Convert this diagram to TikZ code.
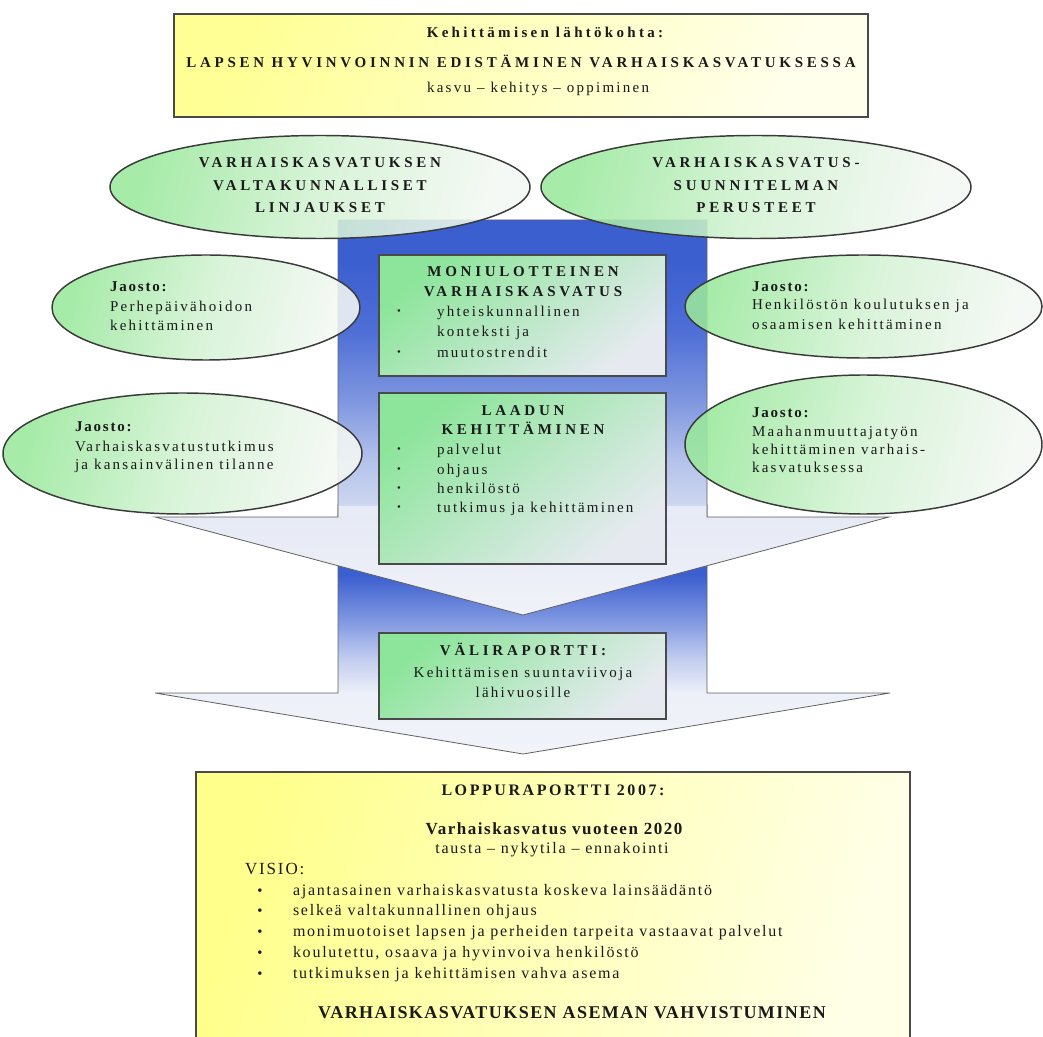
\documentclass[tikz,border=0pt]{standalone}
\usepackage{fontspec}
\setmainfont{Liberation Serif}
\newfontfamily\fCapB[LetterSpace=25]{Liberation Serif}
\newfontfamily\fHdl[LetterSpace=22]{Liberation Serif}
\newfontfamily\fTxt[LetterSpace=15]{Liberation Serif}
\newfontfamily\fJao[LetterSpace=12]{Liberation Serif}
\newfontfamily\fBotR[LetterSpace=11]{Liberation Serif}
\newfontfamily\fBotB[LetterSpace=16]{Liberation Serif}
\newfontfamily\fBotV[LetterSpace=9]{Liberation Serif}
\newfontfamily\fBotF[LetterSpace=8]{Liberation Serif}
\usetikzlibrary{shapes.geometric}

\definecolor{txtc}{HTML}{1A1A1A}
\definecolor{boxLine}{HTML}{4A4A4A}
\definecolor{arrLine}{HTML}{606060}
\definecolor{ellLine}{HTML}{3A3A3A}
\definecolor{ab1}{HTML}{3C5FD0}
\definecolor{ab2}{HTML}{4E6ED6}
\definecolor{ab3}{HTML}{7E96DF}
\definecolor{ab4}{HTML}{B4C2EB}
\definecolor{aw3}{HTML}{CDD6F0}
\definecolor{aw2b}{HTML}{E8ECF6}
\definecolor{aw2}{HTML}{E6EAF5}
\definecolor{aw1}{HTML}{F0F2F8}
\definecolor{bw1}{HTML}{F1F3F9}
\definecolor{bw2}{HTML}{EDF0F8}
\definecolor{bw3}{HTML}{C3CEEF}
\definecolor{bw4}{HTML}{7F97E0}
\definecolor{eg1}{HTML}{9AE89C}
\definecolor{eg2}{HTML}{F4F8F4}
\definecolor{eg3}{HTML}{D3F2D3}
\definecolor{bg1}{HTML}{8CE59A}
\definecolor{bg2}{HTML}{E6EAF0}
\definecolor{yl1}{HTML}{FFFF96}
\definecolor{yl2}{HTML}{FFFFEC}
\definecolor{yb1}{HTML}{FFFF8C}
\definecolor{yb2}{HTML}{FFFFE8}

\pgfdeclareverticalshading{arrOneSh}{100bp}{color(0bp)=(aw1); color(25bp)=(aw1); color(37.4bp)=(aw2); color(38.86bp)=(aw2b); color(38.99bp)=(aw3); color(44.6bp)=(ab4); color(52.2bp)=(ab3); color(61.1bp)=(ab2); color(69.9bp)=(ab1); color(100bp)=(ab1)}
\pgfdeclareverticalshading{arrTwoSh}{100bp}{color(0bp)=(bw1); color(25bp)=(bw1); color(37.2bp)=(bw2); color(43.9bp)=(bw3); color(51.9bp)=(bw4); color(60.9bp)=(ab1); color(100bp)=(ab1)}

\tikzset{
  lbl/.style={inner sep=0pt, outer sep=0pt, text=txtc},
  capB/.style={lbl, font=\fCapB\bfseries\fontsize{11.25}{13}\selectfont},
  hdlB/.style={lbl, font=\fHdl\bfseries\fontsize{11.25}{13}\selectfont},
  txtR/.style={lbl, font=\fTxt\fontsize{11.25}{13}\selectfont},
  jaoB/.style={lbl, font=\fJao\bfseries\fontsize{11.25}{13}\selectfont},
  dotS/.style={lbl, font=\fontsize{8}{8}\selectfont},
  botTitle/.style={lbl, font=\fBotB\bfseries\fontsize{12}{14}\selectfont},
  botSub/.style={lbl, font=\fBotV\bfseries\fontsize{12.75}{15}\selectfont},
  botR/.style={lbl, font=\fBotR\fontsize{12}{14}\selectfont},
  botV/.style={lbl, font=\fBotR\fontsize{12.75}{15}\selectfont},
  botF/.style={lbl, font=\fBotF\bfseries\fontsize{13.5}{16}\selectfont},
  botDot/.style={lbl, font=\fontsize{11}{12}\selectfont},
  shape box/.style={rectangle, inner sep=0pt, outer sep=0pt},
  topbox/.style={shape box, draw=boxLine, line width=1.5pt, left color=yl1, right color=yl2, shading angle=65},
  botbox/.style={shape box, draw=boxLine, line width=1.3pt, left color=yb1, right color=yb2, shading angle=75},
  greenbox/.style={shape box, draw=boxLine, line width=1.3pt, left color=bg1, right color=bg2, shading angle=40},
  ell/.style={ellipse, inner sep=0pt, outer sep=0pt, draw=ellLine, line width=1.1pt, fill opacity=0.88, left color=eg1, right color=eg2, middle color=eg3, shading angle=75},
  arrowbody/.style={draw=arrLine, line width=0.6pt},
}

\begin{document}
\begin{tikzpicture}[x=0.75pt, y=-0.75pt]
\useasboundingbox (0,0) rectangle (1043,1037);
\clip (0,0) rectangle (1043,1037);

% big arrows
\shadedraw[arrowbody, shading=arrTwoSh] (338,505) -- (707,505) -- (707,693) -- (890,693) -- (523,754) -- (155,693) -- (338,693) -- cycle;
\shadedraw[arrowbody, shading=arrOneSh] (338,220) -- (707,220) -- (707,517) -- (889,517) -- (523,615) -- (155,517) -- (338,517) -- cycle;
\draw[white!75!ab1, line width=0.9pt] (339,505) -- (706,505);

% boxes in the shaft
\node[greenbox, minimum width=215.25pt, minimum height=90.75pt] (moni) at (522.5,315.5) {};
\node[greenbox, minimum width=215.25pt, minimum height=128.25pt] (laatu) at (522.5,478.5) {};

% ellipses
\node[ell, minimum width=315pt, minimum height=77.25pt] (elTL) at (320,187) {};
\node[ell, minimum width=322.5pt, minimum height=77.25pt] (elTR) at (756,187) {};
\node[ell, minimum width=231pt, minimum height=78.75pt] (elL1) at (206,307.5) {};
\node[ell, minimum width=269.25pt, minimum height=90.75pt] (elL2) at (182.5,453.5) {};
\node[ell, minimum width=267.75pt, minimum height=77.25pt] (elR1) at (863.5,306.5) {};
\node[ell, minimum width=267.75pt, minimum height=104.25pt] (elR2) at (863.5,444.5) {};

% other boxes
\node[greenbox, minimum width=215.25pt, minimum height=64.5pt] (vali) at (522.5,676) {};
\node[botbox, minimum width=535.5pt, minimum height=216pt] (loppu) at (553,916) {};
\node[topbox, minimum width=520.5pt, minimum height=77.25pt] (top) at (521,65.5) {};

% top box text
\node[hdlB, anchor=base] (topA) at (545,38) {Kehittämisen lähtökohta:};
\node[capB, anchor=base] (topB) at (521,68) {LAPSEN HYVINVOINNIN EDISTÄMINEN VARHAISKASVATUKSESSA};
\node[txtR, anchor=base] (topC) at (538,93) {kasvu – kehitys – oppiminen};

% top ellipses text
\foreach \t [count=\i] in {VARHAISKASVATUKSEN,VALTAKUNNALLISET,LINJAUKSET}
  \node[capB, anchor=base] (tlt\i) at (320,{168+22.5*(\i-1)}) {\t};
\foreach \t [count=\i] in {VARHAISKASVATUS-,SUUNNITELMAN,PERUSTEET}
  \node[capB, anchor=base] (trt\i) at (756,{168+22.5*(\i-1)}) {\t};

% left ellipses text
\node[jaoB, anchor=base west] (l1a) at (110,292) {Jaosto:};
\node[txtR, anchor=base west] (l1b) at (110,312) {Perhepäivähoidon};
\node[txtR, anchor=base west] (l1c) at (110,331) {kehittäminen};
\node[jaoB, anchor=base west] (l2a) at (75,432) {Jaosto:};
\node[txtR, anchor=base west] (l2b) at (75,452) {Varhaiskasvatustutkimus};
\node[txtR, anchor=base west] (l2c) at (75,470) {ja kansainvälinen tilanne};

% right ellipses text
\node[jaoB, anchor=base west] (r1a) at (752,292) {Jaosto:};
\node[txtR, anchor=base west] (r1b) at (752,310) {Henkilöstön koulutuksen ja};
\node[txtR, anchor=base west] (r1c) at (752,330) {osaamisen kehittäminen};
\node[jaoB, anchor=base west] (r2a) at (752,418) {Jaosto:};
\node[txtR, anchor=base west] (r2b) at (752,437) {Maahanmuuttajatyön};
\node[txtR, anchor=base west] (r2c) at (752,455) {kehittäminen varhais-};
\node[txtR, anchor=base west] (r2d) at (752,473) {kasvatuksessa};

% MONIULOTTEINEN box text
\node[capB, anchor=base] (m1) at (523,277) {MONIULOTTEINEN};
\node[capB, anchor=base] (m2) at (523,297) {VARHAISKASVATUS};
\node[dotS, anchor=base] (md1) at (399,315) {•};
\node[txtR, anchor=base west] (mt1) at (437,317) {yhteiskunnallinen};
\node[txtR, anchor=base west] (mt2) at (437,337) {konteksti ja};
\node[dotS, anchor=base] (md2) at (399,356) {•};
\node[txtR, anchor=base west] (mt3) at (437,358) {muutostrendit};

% LAADUN box text
\node[capB, anchor=base] (q1) at (523,416) {LAADUN};
\node[capB, anchor=base] (q2) at (523,435) {KEHITTÄMINEN};
\foreach \t [count=\i] in {palvelut,ohjaus,henkilöstö,tutkimus ja kehittäminen} {
  \node[dotS, anchor=base] (qd\i) at (399,{453+19.3*(\i-1)}) {•};
  \node[txtR, anchor=base west] (qt\i) at (437,{455+19.3*(\i-1)}) {\t};
}

% VALIRAPORTTI box text
\node[capB, anchor=base] (v1) at (523,655) {VÄLIRAPORTTI:};
\node[txtR, anchor=base] (v2) at (523,677) {Kehittämisen suuntaviivoja};
\node[txtR, anchor=base] (v3) at (523,697) {lähivuosille};

% LOPPURAPORTTI box text
\node[botTitle, anchor=base] (b1) at (553,795.5) {LOPPURAPORTTI 2007:};
\node[botSub, anchor=base] (b2) at (554,834) {Varhaiskasvatus vuoteen 2020};
\node[botR, anchor=base] (b3) at (552,853.5) {tausta – nykytila – ennakointi};
\node[botV, anchor=base west] (b4) at (245,874) {VISIO:};
\foreach \t [count=\i] in {ajantasainen varhaiskasvatusta koskeva lainsäädäntö,selkeä valtakunnallinen ohjaus,monimuotoiset lapsen ja perheiden tarpeita vastaavat palvelut,{koulutettu, osaava ja hyvinvoiva henkilöstö},tutkimuksen ja kehittämisen vahva asema} {
  \node[botDot, anchor=base] (bd\i) at (260,{895+20.8*(\i-1)}) {•};
  \node[botR, anchor=base west] (bt\i) at (293,{895+20.8*(\i-1)}) {\t};
}
\node[botF, anchor=base] (b5) at (572,1018) {VARHAISKASVATUKSEN ASEMAN VAHVISTUMINEN};
\end{tikzpicture}
\end{document}
